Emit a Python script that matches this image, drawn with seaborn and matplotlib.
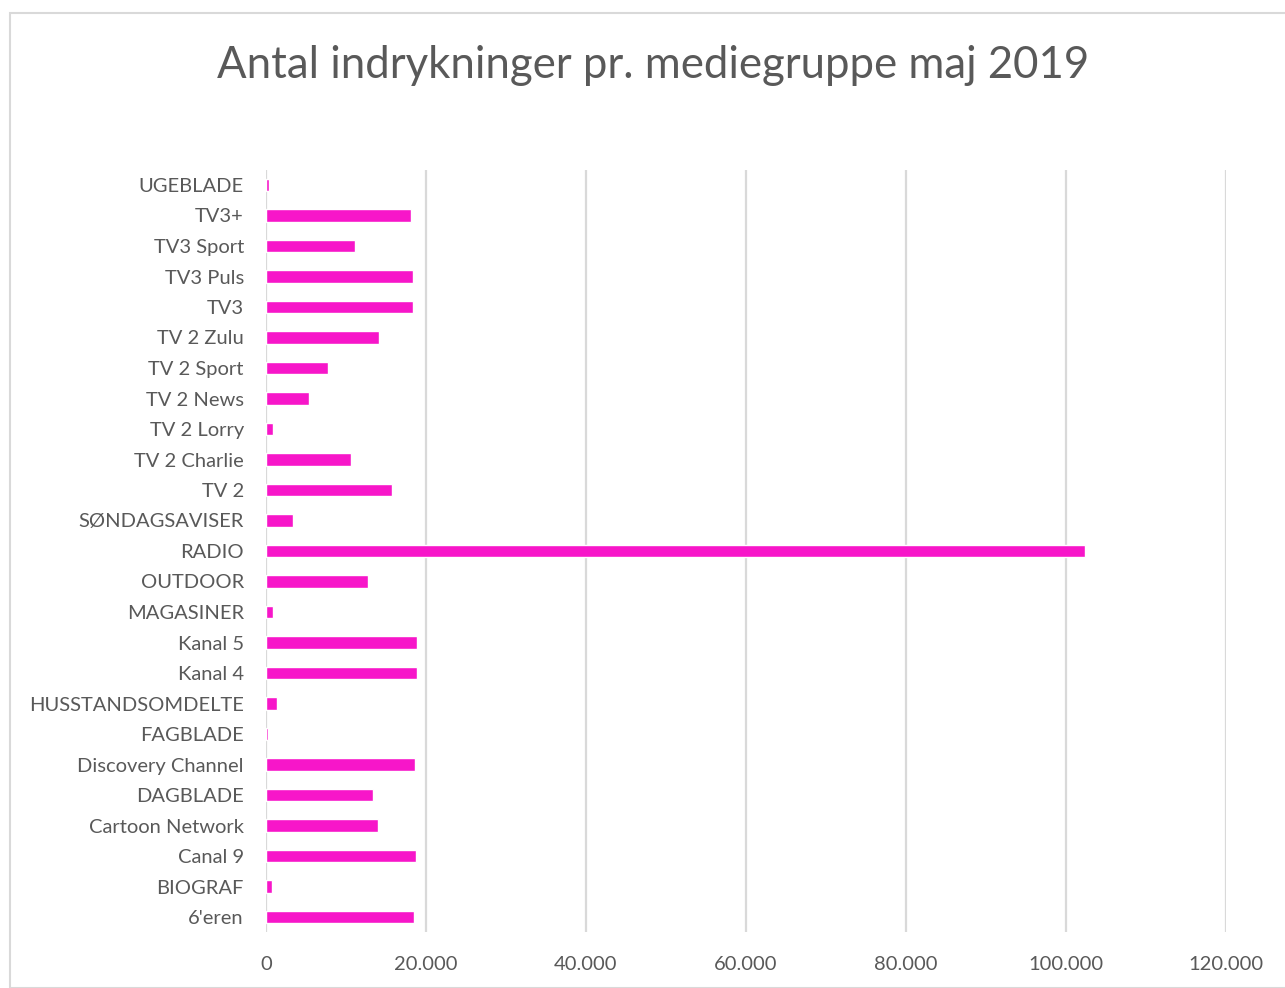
import matplotlib
matplotlib.use("Agg")
import matplotlib.pyplot as plt
import seaborn as sns
import pandas as pd
from matplotlib.patches import Rectangle
from matplotlib.ticker import FuncFormatter

# Data (top to bottom as in the chart)
groups = ["UGEBLADE", "TV3+", "TV3 Sport", "TV3 Puls", "TV3", "TV 2 Zulu",
          "TV 2 Sport", "TV 2 News", "TV 2 Lorry", "TV 2 Charlie", "TV 2",
          "SØNDAGSAVISER", "RADIO", "OUTDOOR", "MAGASINER", "Kanal 5",
          "Kanal 4", "HUSSTANDSOMDELTE", "FAGBLADE", "Discovery Channel",
          "DAGBLADE", "Cartoon Network", "Canal 9", "BIOGRAF", "6'eren"]
counts = [380, 18170, 11130, 18330, 18330, 14170,
          7750, 5330, 830, 10630, 15750,
          3420, 102400, 12710, 830, 18920,
          18920, 1330, 200, 18670,
          13330, 14000, 18790, 710, 18500]
xticks = [0, 20000, 40000, 60000, 80000, 100000, 120000]

df = pd.DataFrame({"gruppe": groups, "antal": counts})

sns.set_style("white")
plt.rcParams['font.family'] = ['Lato', 'DejaVu Sans']
text_col = "#595959"
grid_col = "#D9D9D9"

fig = plt.figure(figsize=(12.85, 9.88), dpi=100)
# outer chart border
fig.patches.append(Rectangle((10 / 1285, 0), 1.0, 1 - 13 / 988, transform=fig.transFigure,
                             fill=False, edgecolor=grid_col, linewidth=1.5))

ax = fig.add_axes([266 / 1285, 1 - 932.25 / 988, 960 / 1285, 762.5 / 988])
sns.barplot(data=df, x="antal", y="gruppe", color="#F716C9", width=0.42,
            saturation=1, ax=ax, zorder=3)

ax.set_xlim(0, 120000)
ax.set_xticks(xticks)
ax.xaxis.set_major_formatter(FuncFormatter(lambda v, p: f"{int(v):,}".replace(",", ".")))
ax.grid(axis="x", color=grid_col, linewidth=1.6, zorder=0)
for s in ax.spines.values():
    s.set_visible(False)
ax.tick_params(axis="x", length=0, pad=17, labelsize=14.5, labelcolor=text_col)
ax.tick_params(axis="y", length=0, pad=16, labelsize=14.5, labelcolor=text_col)
ax.set_xlabel("")
ax.set_ylabel("")

fig.text(653 / 1285, 1 - 66 / 988, "Antal indrykninger pr. mediegruppe maj 2019",
         ha="center", va="center", fontsize=31.5, color=text_col)

plt.savefig("out.png", dpi=100)
